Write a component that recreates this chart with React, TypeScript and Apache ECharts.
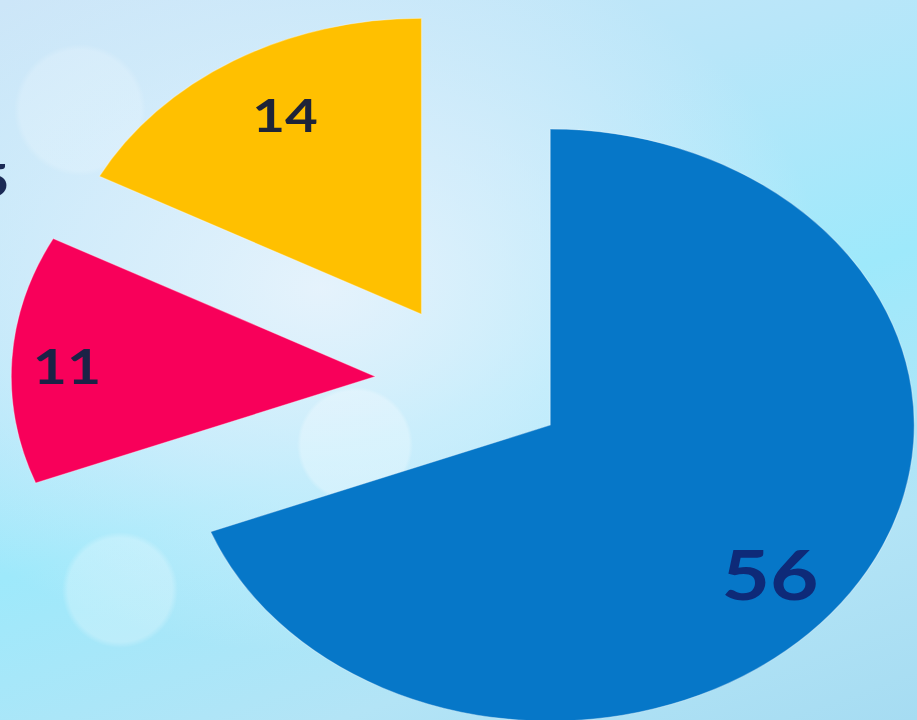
import React, { useEffect, useRef } from "react";
import * as echarts from "echarts";

// Data (clockwise from 12 o'clock)
const categories = ["A", "B", "C"];
const values = [56, 11, 14];
const colors = ["#0677C8", "#F8005A", "#FFC000"];
const labelSizes = [68, 48, 46];
const labelColors = ["#0E2A78", "#1B2246", "#1E2438"];

const STRETCH = 1.23;
const W = 917;
const H = 720;

export default function App() {
  const ref = useRef<HTMLDivElement>(null);

  useEffect(() => {
    if (!ref.current) return;
    const chart = echarts.init(ref.current, undefined, { renderer: "svg" });
    const center = [383, 381];
    const R = 296;
    // small nudges of each label inside its slice
    const labelNudges = [
      [-16, 15],
      [-15, 3],
      [11, 2],
    ];
    const baseData = categories.map((name, i) => ({
      name,
      value: values[i],
      selected: true,
      itemStyle: { color: colors[i] },
    }));
    const labelData = categories.map((name, i) => ({
      name,
      value: values[i],
      selected: true,
      itemStyle: { color: "rgba(0,0,0,0)" },
      label: {
        fontSize: labelSizes[i],
        color: labelColors[i],
      },
    }));
    chart.setOption({
      animation: false,
      series: [
        {
          type: "pie",
          center,
          radius: R,
          startAngle: 90,
          clockwise: true,
          selectedMode: "multiple",
          selectedOffset: 78,
          silent: true,
          label: { show: false },
          labelLine: { show: false },
          itemStyle: { borderColor: "rgba(255,255,255,0.35)", borderWidth: 1 },
          select: { itemStyle: { borderColor: "rgba(255,255,255,0.35)", borderWidth: 1 } },
          emphasis: { disabled: true },
          data: baseData,
        },
        {
          type: "pie",
          center,
          radius: [170, R],
          startAngle: 90,
          clockwise: true,
          selectedMode: "multiple",
          selectedOffset: 78,
          silent: true,
          z: 3,
          label: {
            show: true,
            position: "inside",
            formatter: "{c}",
            fontFamily: "Lato",
            fontWeight: 700,
          },
          labelLayout: (params: any) => {
            const n = labelNudges[params.dataIndex] || [0, 0];
            return { dx: n[0], dy: n[1] };
          },
          labelLine: { show: false },
          select: { itemStyle: { color: "rgba(0,0,0,0)", borderWidth: 0 } },
          emphasis: { disabled: true },
          data: labelData,
        },
      ],
      graphic: [
        {
          type: "text",
          left: -19,
          top: 156,
          style: {
            text: "5",
            fontSize: 46,
            fontFamily: "Lato",
            fontWeight: 700,
            fill: "#1B2A55",
          },
        },
      ],
    });
    return () => chart.dispose();
  }, []);

  const bg =
    "radial-gradient(circle at 355px 445px, rgba(255,255,255,0.28) 0, rgba(255,255,255,0.28) 54px, rgba(255,255,255,0) 58px)," +
    "radial-gradient(circle at 120px 590px, rgba(255,255,255,0.25) 0, rgba(255,255,255,0.25) 52px, rgba(255,255,255,0) 58px)," +
    "radial-gradient(circle at 80px 110px, rgba(255,255,255,0.18) 0, rgba(255,255,255,0.18) 60px, rgba(255,255,255,0) 66px)," +
    "radial-gradient(ellipse at 35% 40%, rgba(232,243,252,0.95) 0%, rgba(225,240,252,0.6) 30%, rgba(220,240,252,0) 60%)," +
    "linear-gradient(160deg, #cde6f8 0%, #b8e6f9 30%, #9ee9fb 55%, #b3e4f6 80%, #a6dcf2 100%)";

  return (
    <div
      style={{
        position: "fixed",
        left: 0,
        top: 0,
        width: W,
        height: H,
        overflow: "hidden",
        background: bg,
      }}
    >
      <div
        ref={ref}
        style={{
          width: W / STRETCH,
          height: H,
          transform: `scaleX(${STRETCH})`,
          transformOrigin: "0 0",
        }}
      />
    </div>
  );
}
